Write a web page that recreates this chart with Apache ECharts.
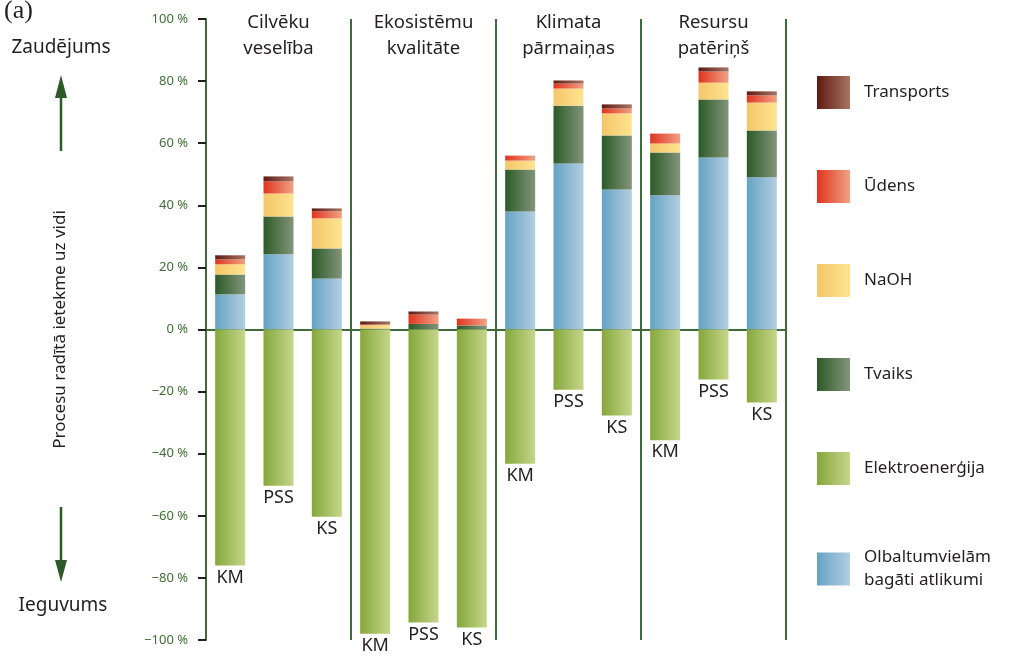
<!DOCTYPE html>
<html>
<head>
<meta charset="utf-8">
<script src="https://cdn.jsdelivr.net/npm/echarts@6/dist/echarts.min.js"></script>
<style>
html,body{margin:0;padding:0;background:#fff;}
#chart{width:1020px;height:656px;}
</style>
</head>
<body>
<div id="chart"></div>
<script>
// ---- Data ----
var categories = ['KM','PSS','KS','KM','PSS','KS','KM','PSS','KS','KM','PSS','KS'];
var groups = ['Cilvēku\nveselība','Ekosistēmu\nkvalitāte','Klimata\npārmaiņas','Resursu\npatēriņš'];
var yTicks = [-100,-80,-60,-40,-20,0,20,40,60,80,100];

var olbaltum   = [11.3, 24.2, 16.4, 0,    0,    0,    38.0, 53.5, 45.1, 43.2, 55.4, 49.0];
var tvaiks     = [6.4,  12.2, 9.7,  0.3,  1.8,  1.3,  13.5, 18.6, 17.4, 13.8, 18.7, 15.1];
var naoh       = [3.3,  7.4,  9.7,  1.1,  0,    0,    2.9,  5.5,  7.1,  2.9,  5.4,  9.0];
var udens      = [1.6,  3.9,  2.3,  0.2,  3.0,  2.2,  1.6,  1.6,  1.6,  3.2,  3.6,  2.3];
var transports = [1.3,  1.6,  0.9,  1.0,  1.0,  0,    0,    1.0,  1.3,  0,    1.3,  1.3];
var elektro    = [-76, -50.3, -60.3, -98, -94.4, -96, -43.2, -19.4, -27.7, -35.7, -16.1, -23.5];

var names = {
  tr: 'Transports', ud: 'Ūdens', na: 'NaOH', tv: 'Tvaiks',
  el: 'Elektroenerģija', ol: 'Olbaltumvielām\nbagāti atlikumi'
};

// ---- Styles ----
var FONT = 'Noto Sans';
var GREEN = '#3f6b3c';
var TEXT = '#231f20';
function grad(a, b) {
  return {type:'linear', x:0, y:0, x2:1, y2:0, colorStops:[{offset:0,color:a},{offset:1,color:b}]};
}
var colors = {
  tr: grad('#5f1a12', '#a87563'),
  ud: grad('#e0341f', '#f0a284'),
  na: grad('#f4c66a', '#fee48f'),
  tv: grad('#2c5a28', '#83957b'),
  el: grad('#85a73c', '#c6d68a'),
  ol: grad('#65a3c3', '#b3cee1')
};

function barSeries(key, data, extra) {
  var s = {
    name: names[key], type: 'bar', stack: 'all', data: data,
    barWidth: 30, itemStyle: {color: colors[key]},
    emphasis: {disabled: true}
  };
  for (var k in extra) s[k] = extra[k];
  return s;
}

var chart = echarts.init(document.getElementById('chart'), null, {renderer:'canvas'});
var option = {
  animation: false,
  textStyle: {fontFamily: FONT},
  grid: {left: 206, right: 234, top: 19, bottom: 16},
  legend: {
    orient: 'vertical', left: 817, top: 76, padding: 0,
    itemWidth: 33, itemHeight: 33, itemGap: 61,
    icon: 'rect',
    data: [names.tr, names.ud, names.na, names.tv, names.el, names.ol],
    textStyle: {fontFamily: FONT, fontSize: 17, color: TEXT, lineHeight: 23, padding: [0,0,0,9]}
  },
  xAxis: [{
    type: 'category', data: categories, position: 'bottom',
    axisLine: {onZero: true, lineStyle: {color: GREEN, width: 2}},
    axisTick: {show: false}, axisLabel: {show: false}, splitLine: {show: false}
  }, {
    type: 'category', data: groups, position: 'top',
    axisLine: {show: false}, axisTick: {show: false},
    axisLabel: {inside: true, margin: -9, fontFamily: FONT, fontSize: 18.5, lineHeight: 26, color: TEXT},
    splitLine: {show: true, lineStyle: {color: GREEN, width: 2}}
  }],
  yAxis: {
    type: 'value', min: -100, max: 100, interval: 20,
    name: 'Procesu radītā ietekme uz vidi', nameLocation: 'middle', nameGap: 137,
    nameTextStyle: {fontFamily: FONT, fontSize: 17, color: TEXT},
    axisLine: {show: true, lineStyle: {color: GREEN, width: 2}},
    axisTick: {show: true, length: 8, lineStyle: {color: TEXT, width: 2}},
    axisLabel: {margin: 18, fontFamily: FONT, fontSize: 13, color: '#3d7034',
      formatter: function(v){ return (v < 0 ? '−' + (-v) : v) + ' %'; }},
    splitLine: {show: false}
  },
  series: [
    barSeries('ol', olbaltum),
    barSeries('tv', tvaiks),
    barSeries('na', naoh),
    barSeries('ud', udens),
    barSeries('tr', transports),
    barSeries('el', elektro, {
      label: {show: true, position: 'bottom', distance: 3, formatter: '{b}',
        fontFamily: FONT, fontSize: 18, color: TEXT}
    })
  ],
  graphic: [
    {type: 'text', left: 4, top: -2, style: {text: '(a)', font: '26px "Liberation Serif", serif', fill: TEXT}},
    {type: 'text', x: 61, y: 48, style: {text: 'Zaudējums', font: '19px "Noto Sans"', fill: TEXT, align: 'center', verticalAlign: 'middle'}},
    {type: 'text', x: 63, y: 606, style: {text: 'Ieguvums', font: '19px "Noto Sans"', fill: TEXT, align: 'center', verticalAlign: 'middle'}},
    {type: 'line', shape: {x1: 61, y1: 151, x2: 61, y2: 95}, style: {stroke: '#2c5a28', lineWidth: 2.5}},
    {type: 'polygon', shape: {points: [[61, 75], [55, 98], [67, 98]]}, style: {fill: '#2c5a28'}},
    {type: 'line', shape: {x1: 61, y1: 507, x2: 61, y2: 562}, style: {stroke: '#2c5a28', lineWidth: 2.5}},
    {type: 'polygon', shape: {points: [[61, 582], [55, 560], [67, 560]]}, style: {fill: '#2c5a28'}}
  ]
};
chart.setOption(option);
</script>
</body>
</html>
